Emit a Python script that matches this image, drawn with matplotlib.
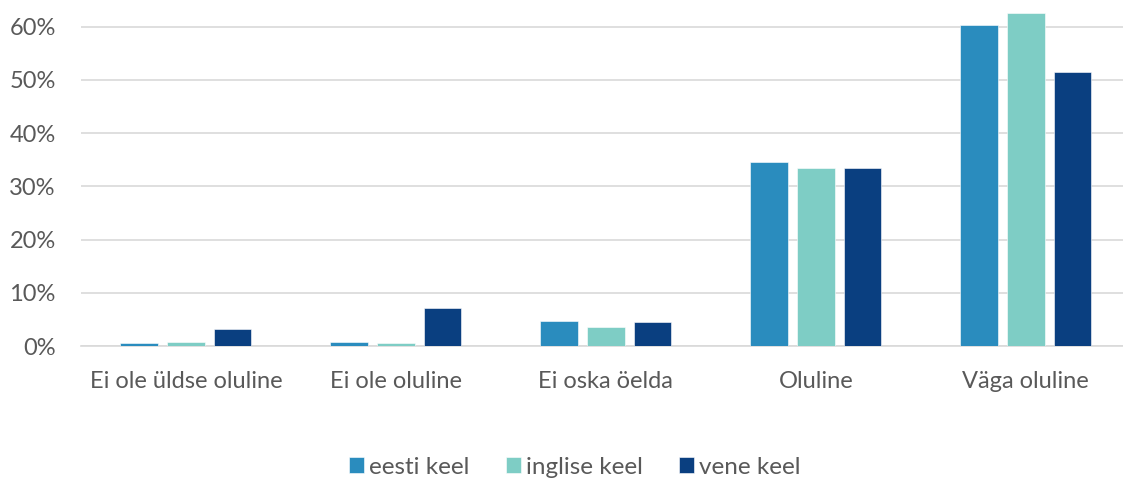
import numpy as np
import matplotlib.pyplot as plt
from matplotlib.ticker import PercentFormatter

# ── Data ──────────────────────────────────────────────────────────────────────
categories = ["Ei ole üldse oluline", "Ei ole oluline", "Ei oska öelda",
              "Oluline", "Väga oluline"]
eesti = [0.5, 0.8, 4.7, 34.6, 60.3]
inglise = [0.8, 0.5, 3.6, 33.4, 62.6]
vene = [3.2, 7.1, 4.6, 33.5, 51.5]

series = [("eesti keel", eesti, "#2A8CBE"),
          ("inglise keel", inglise, "#7ECDC5"),
          ("vene keel", vene, "#0A3F80")]

TEXT = "#595959"
plt.rcParams["font.family"] = ["Lato", "DejaVu Sans"]

# ── Figure ────────────────────────────────────────────────────────────────────
fig = plt.figure(figsize=(11.23, 4.8), dpi=100)
ax = fig.add_axes([0.072, 0.279, 0.935, 0.721])

x = np.arange(len(categories))
width = 0.18
offsets = [-0.222, 0, 0.222]
for (label, vals, color), off in zip(series, offsets):
    ax.bar(x + off, vals, width=width, color=color, label=label,
           edgecolor="white", linewidth=0.4, zorder=3)

ax.set_xlim(-0.5, len(categories) - 0.5)
ax.set_ylim(0, 65)
ax.set_yticks(range(0, 61, 10))
ax.yaxis.set_major_formatter(PercentFormatter(decimals=0))
ax.grid(axis="y", color="#D9D9D9", linewidth=1.2, zorder=0)
ax.set_axisbelow(True)

ax.set_xticks(x)
ax.set_xticklabels(categories)
ax.tick_params(axis="both", length=0, labelsize=17, colors=TEXT)
ax.tick_params(axis="x", pad=18)
ax.tick_params(axis="y", pad=18)

for spine in ["top", "right", "left"]:
    ax.spines[spine].set_visible(False)
ax.spines["bottom"].set_color("#D9D9D9")
ax.spines["bottom"].set_linewidth(1.2)

fig.legend(loc="center", bbox_to_anchor=(0.512, 0.027), ncol=3,
           frameon=False, fontsize=17.5, labelcolor=TEXT,
           handlelength=0.62, handleheight=0.62, handletextpad=0.2,
           columnspacing=1.5)

fig.savefig("out.png", dpi=100)
